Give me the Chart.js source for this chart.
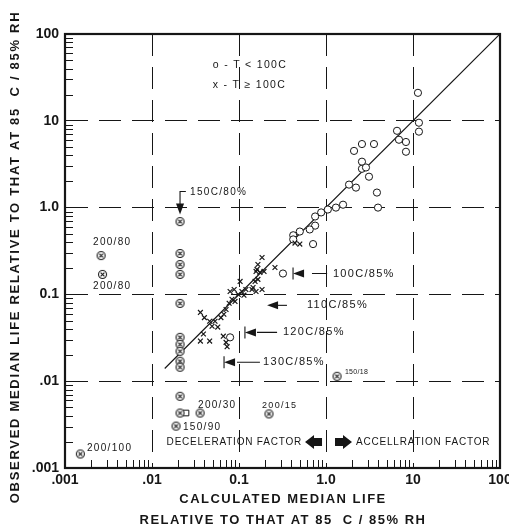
<!DOCTYPE html>
<html>
<head>
<meta charset="utf-8">
<script src="https://cdn.jsdelivr.net/npm/chart.js@4.4.0/dist/chart.umd.min.js"></script>
<style>
  html, body { margin: 0; padding: 0; background: #fff; }
  canvas { display: block; }
</style>
</head>
<body>
<canvas id="lifeChart" width="509" height="528"></canvas>
<script>
// decade ticks and the labels printed on them
const tickValues = [0.001, 0.01, 0.1, 1, 10, 100];
const xTickLabels = ['.001', '.01', '0.1', '1.0', '10', '100'];
const yTickLabels = ['.001', '.01', '0.1', '1.0', '10', '100'];

// open circles, T < 100C (calculated / observed)
const lowTempX = [1.57, 1.30, 1.05, 0.88, 0.75, 0.75, 0.65, 0.50, 0.42, 0.42,
  0.71, 0.32, 3.96, 1.84, 2.21, 3.85, 2.10, 2.59, 3.56, 2.59,
  2.59, 2.88, 3.12, 6.55, 6.9, 8.3, 8.3, 11.7, 11.7, 11.4, 0.079];
const lowTempY = [1.08, 1.0, 0.95, 0.88, 0.79, 0.62, 0.56, 0.53, 0.48, 0.43,
  0.38, 0.174, 1.0, 1.84, 1.70, 1.49, 4.5, 5.4, 5.4, 3.38,
  2.8, 2.9, 2.27, 7.67, 6.05, 5.7, 4.4, 9.5, 7.5, 21, 0.032];

// x marks, T >= 100C
const highTempX = [0.036, 0.040, 0.046, 0.053, 0.057, 0.062, 0.067, 0.071, 0.077, 0.083,
  0.079, 0.088, 0.103, 0.108, 0.114, 0.141, 0.157, 0.161, 0.184, 0.165,
  0.157, 0.174, 0.194, 0.259, 0.153, 0.165, 0.145, 0.184, 0.098, 0.090,
  0.039, 0.036, 0.046, 0.066, 0.071, 0.073, 0.44, 0.50, 0.049, 0.120];
const highTempY = [0.062, 0.054, 0.049, 0.049, 0.042, 0.054, 0.059, 0.067, 0.079, 0.088,
  0.108, 0.114, 0.141, 0.108, 0.098, 0.114, 0.108, 0.194, 0.266, 0.221,
  0.184, 0.179, 0.184, 0.204, 0.141, 0.149, 0.120, 0.114, 0.100, 0.083,
  0.035, 0.029, 0.029, 0.033, 0.028, 0.025, 0.39, 0.38, 0.043, 0.114];

// crossed circles, the labelled stress conditions
const crossX = [0.0026, 0.0027, 0.0015,
  0.021, 0.021, 0.021, 0.021, 0.021, 0.021, 0.021, 0.021, 0.021, 0.021, 0.021, 0.021,
  0.0357, 0.0189, 0.221, 1.34];
const crossY = [0.28, 0.170, 0.00145,
  0.69, 0.296, 0.221, 0.170, 0.0788, 0.032, 0.0266, 0.0221, 0.0170, 0.0145, 0.0067, 0.0043,
  0.0043, 0.00304, 0.0042, 0.0114];

// lone square next to the 200/30 points
const squareX = [0.0246];
const squareY = [0.0043];

// 1:1 line
const diagX = [0.014, 100];
const diagY = [0.014, 100];

const INK = '#161616';
const FONT = '"Liberation Sans", Arial, sans-serif';

function toPoints(xs, ys) {
  return xs.map((x, i) => ({ x: x, y: ys[i] }));
}

// circle with an x in it
const crossCircle = (function() {
  const c = document.createElement('canvas');
  c.width = 11;
  c.height = 11;
  const g = c.getContext('2d');
  g.strokeStyle = INK;
  g.fillStyle = '#fff';
  g.lineWidth = 1.1;
  g.beginPath();
  g.arc(5.5, 5.5, 4, 0, Math.PI * 2);
  g.fill();
  g.stroke();
  g.beginPath();
  g.moveTo(3.6, 3.6); g.lineTo(7.4, 7.4);
  g.moveTo(7.4, 3.6); g.lineTo(3.6, 7.4);
  g.stroke();
  return c;
})();

// texts on the plot, placed in data coordinates
const notes = [
  { text: 'o - T < 100C', x: 0.050, y: 44, size: 10.5 },
  { text: 'x - T \u2265 100C', x: 0.050, y: 26, size: 10.5 },
  { text: '150C/80%', x: 0.0274, y: 1.49, size: 10 },
  { text: '100C/85%', x: 1.20, y: 0.174, size: 11 },
  { text: '110C/85%', x: 0.605, y: 0.0748, size: 11 },
  { text: '120C/85%', x: 0.32, y: 0.0365, size: 11 },
  { text: '130C/85%', x: 0.189, y: 0.0165, size: 11 },
  { text: '150/18', x: 1.65, y: 0.0127, size: 7, spacing: 0.3 },
  { text: '200/15', x: 0.184, y: 0.0053, size: 9 },
  { text: '200/30', x: 0.0338, y: 0.0053, size: 10 },
  { text: '150/90', x: 0.0227, y: 0.00296, size: 10 },
  { text: '200/80', x: 0.0021, y: 0.396, size: 10 },
  { text: '200/80', x: 0.0021, y: 0.1236, size: 10 },
  { text: '200/100', x: 0.00179, y: 0.0017, size: 10 },
  { text: 'DECELERATION FACTOR', x: 0.53, y: 0.00199, size: 10, spacing: 0.8, align: 'right' },
  { text: 'ACCELLRATION FACTOR', x: 2.21, y: 0.00199, size: 10, spacing: 0.8 }
];

// leader arrows: tip, line end, optional stop bar
const leaders = [
  { y: 0.174, tip: 0.418, from: 0.69, to: 1.03, bar: true },
  { y: 0.0748, tip: 0.21, from: 0.274, to: 0.356, bar: false },
  { y: 0.0365, tip: 0.117, from: 0.161, to: 0.274, bar: true },
  { y: 0.0165, tip: 0.0673, from: 0.0948, to: 0.174, bar: true }
];

function headLeft(ctx, x, y, len, half) {
  ctx.beginPath();
  ctx.moveTo(x, y);
  ctx.lineTo(x + len, y - half);
  ctx.lineTo(x + len, y + half);
  ctx.closePath();
  ctx.fill();
}

function blockArrow(ctx, x, y, dir) {
  // dir -1 points left, 1 points right; x is the tip
  ctx.beginPath();
  ctx.moveTo(x, y);
  ctx.lineTo(x - dir * 9, y - 7);
  ctx.lineTo(x - dir * 9, y - 4);
  ctx.lineTo(x - dir * 17, y - 4);
  ctx.lineTo(x - dir * 17, y + 4);
  ctx.lineTo(x - dir * 9, y + 4);
  ctx.lineTo(x - dir * 9, y + 7);
  ctx.closePath();
  ctx.fill();
}

const notesPlugin = {
  id: 'notes',
  afterDatasetsDraw(chart) {
    const ctx = chart.ctx;
    const xs = chart.scales.x;
    const ys = chart.scales.y;
    ctx.save();
    ctx.fillStyle = INK;
    ctx.strokeStyle = INK;
    ctx.textBaseline = 'middle';

    notes.forEach(n => {
      ctx.font = (n.size || 10) + 'px ' + FONT;
      ctx.letterSpacing = (n.spacing !== undefined ? n.spacing : 1.3) + 'px';
      ctx.textAlign = n.align || 'left';
      ctx.fillText(n.text, xs.getPixelForValue(n.x), ys.getPixelForValue(n.y));
    });
    ctx.letterSpacing = '0px';

    ctx.lineWidth = 1.1;
    leaders.forEach(l => {
      const py = ys.getPixelForValue(l.y);
      const tip = xs.getPixelForValue(l.tip);
      headLeft(ctx, tip, py, 11, 4);
      ctx.beginPath();
      ctx.moveTo(xs.getPixelForValue(l.from), py);
      ctx.lineTo(xs.getPixelForValue(l.to), py);
      if (l.bar) {
        ctx.moveTo(tip, py - 6);
        ctx.lineTo(tip, py + 6);
      }
      ctx.stroke();
    });

    // 150C/80% bent arrow pointing down on the 0.02 column
    const cx = xs.getPixelForValue(0.021);
    const top = ys.getPixelForValue(1.53);
    const tipY = ys.getPixelForValue(0.83);
    ctx.beginPath();
    ctx.moveTo(xs.getPixelForValue(0.0245), top);
    ctx.lineTo(cx, top);
    ctx.lineTo(cx, tipY - 8);
    ctx.stroke();
    ctx.beginPath();
    ctx.moveTo(cx, tipY);
    ctx.lineTo(cx - 4, tipY - 11);
    ctx.lineTo(cx + 4, tipY - 11);
    ctx.closePath();
    ctx.fill();

    // deceleration / acceleration block arrows
    const fy = ys.getPixelForValue(0.00199);
    blockArrow(ctx, xs.getPixelForValue(0.574), fy, -1);
    blockArrow(ctx, xs.getPixelForValue(1.99), fy, 1);
    ctx.restore();
  },
  afterDraw(chart) {
    const ctx = chart.ctx;
    const a = chart.chartArea;
    const xs = chart.scales.x;
    const ys = chart.scales.y;
    ctx.save();
    ctx.strokeStyle = INK;

    // minor ticks inside the frame
    ctx.lineWidth = 1;
    ctx.beginPath();
    for (let k = 0; k < tickValues.length - 1; k++) {
      for (let d = 2; d <= 9; d++) {
        const v = tickValues[k] * d;
        const px = Math.round(xs.getPixelForValue(v)) + 0.5;
        ctx.moveTo(px, a.bottom);
        ctx.lineTo(px, a.bottom - 8);
        const py = Math.round(ys.getPixelForValue(v)) + 0.5;
        ctx.moveTo(a.left, py);
        ctx.lineTo(a.left + 8, py);
      }
    }
    ctx.stroke();

    // frame
    ctx.lineWidth = 2.2;
    ctx.strokeRect(a.left, a.top, a.right - a.left, a.bottom - a.top);

    // axis titles
    ctx.fillStyle = INK;
    ctx.font = 'bold 13px ' + FONT;
    ctx.letterSpacing = '1.5px';
    ctx.textAlign = 'center';
    ctx.textBaseline = 'middle';
    ctx.fillText('CALCULATED MEDIAN LIFE', 283, 499);
    ctx.fillText('RELATIVE TO THAT AT 85  C / 85% RH', 283, 520);
    ctx.translate(15, 257);
    ctx.rotate(-Math.PI / 2);
    ctx.letterSpacing = '1.7px';
    ctx.fillText('OBSERVED MEDIAN LIFE RELATIVE TO THAT AT 85  C / 85% RH', 0, 0);
    ctx.restore();
  }
};

function decadeAxis(labels, isX) {
  return {
    type: 'logarithmic',
    min: 0.001,
    max: 100,
    afterBuildTicks(scale) {
      scale.ticks = tickValues.map(v => ({ value: v }));
    },
    afterFit(scale) {
      if (isX) {
        scale.height = 60;
      } else {
        scale.width = 65;
      }
      scale.paddingLeft = 0;
      scale.paddingRight = 0;
      scale.paddingTop = 0;
      scale.paddingBottom = 0;
    },
    ticks: {
      autoSkip: false,
      maxRotation: 0,
      padding: isX ? 4 : 6,
      color: INK,
      font: { family: FONT, size: 14, weight: 'bold' },
      callback: (value, index) => labels[index]
    },
    grid: {
      color: INK,
      lineWidth: 1,
      drawTicks: false
    },
    border: {
      display: true,
      color: INK,
      width: 2,
      dash: [22, 11]
    }
  };
}

const ctx = document.getElementById('lifeChart').getContext('2d');
new Chart(ctx, {
  type: 'scatter',
  data: {
    datasets: [
      {
        label: 'T >= 100C',
        data: toPoints(highTempX, highTempY),
        pointStyle: 'crossRot',
        pointRadius: 3.4,
        borderColor: INK,
        borderWidth: 1.2
      },
      {
        label: 'T < 100C',
        data: toPoints(lowTempX, lowTempY),
        pointStyle: 'circle',
        pointRadius: 3.6,
        backgroundColor: '#fff',
        borderColor: INK,
        borderWidth: 1
      },
      {
        label: 'conditions',
        data: toPoints(crossX, crossY),
        pointStyle: crossCircle
      },
      {
        label: 'square',
        data: toPoints(squareX, squareY),
        pointStyle: 'rect',
        pointRadius: 4,
        backgroundColor: '#fff',
        borderColor: INK,
        borderWidth: 1
      },
      {
        type: 'line',
        label: '1:1',
        data: toPoints(diagX, diagY),
        borderColor: INK,
        borderWidth: 1.2,
        pointRadius: 0,
        fill: false
      }
    ]
  },
  options: {
    responsive: false,
    animation: false,
    layout: { padding: { left: 0, right: 9, top: 34, bottom: 0 } },
    plugins: {
      legend: { display: false },
      tooltip: { enabled: false }
    },
    scales: {
      x: decadeAxis(xTickLabels, true),
      y: decadeAxis(yTickLabels, false)
    }
  },
  plugins: [notesPlugin]
});
</script>
</body>
</html>
